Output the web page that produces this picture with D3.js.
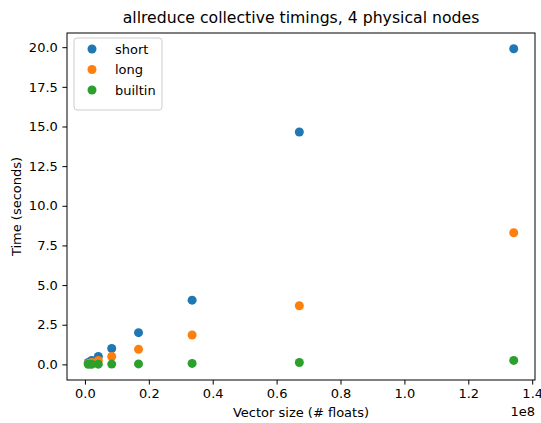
<!DOCTYPE html>
<html>
<head>
<meta charset="utf-8">
<script src="https://cdn.jsdelivr.net/npm/d3@7"></script>
<style>
  body { margin: 0; background: #fff; }
  text { font-family: "DejaVu Sans", sans-serif; fill: #000; }
</style>
</head>
<body>
<div id="chart"></div>
<script>
// vector sizes (floats): 2^20 .. 2^27
const sizes = [1048576, 2097152, 4194304, 8388608, 16777216, 33554432, 67108864, 134217728]
const shortTimes = [0.12, 0.25, 0.5, 1.0, 2.0, 4.05, 14.65, 19.9]
const longTimes = [0.06, 0.12, 0.25, 0.5, 0.95, 1.85, 3.7, 8.3]
const builtinTimes = [0.01, 0.01, 0.015, 0.02, 0.03, 0.06, 0.12, 0.25]
const seriesNames = ['short', 'long', 'builtin']
const colors = ['#1f77b4', '#ff7f0e', '#2ca02c']
const xTicks = [0, 0.2e8, 0.4e8, 0.6e8, 0.8e8, 1.0e8, 1.2e8, 1.4e8]
const yTicks = [0, 2.5, 5, 7.5, 10, 12.5, 15, 17.5, 20]

window.onload = function () {
  let width = 541
  let height = 423
  let left = 67, right = 535, top = 33, bottom = 380
  let dotR = 4.5

  let svg = d3.select('#chart').append('svg')
    .attr('width', width)
    .attr('height', height)

  // matplotlib-ish 5% margins
  let xmin = sizes[0], xmax = sizes[sizes.length - 1]
  let xpad = (xmax - xmin) * 0.05
  let x = d3.scaleLinear().domain([xmin - xpad, xmax + xpad]).range([left, right])
  let allY = shortTimes.concat(longTimes, builtinTimes)
  let ymin = d3.min(allY), ymax = d3.max(allY)
  let ypad = (ymax - ymin) * 0.05
  let y = d3.scaleLinear().domain([ymin - ypad, ymax + ypad]).range([bottom, top])

  let xAxis = d3.axisBottom(x).tickValues(xTicks).tickSize(4.6).tickPadding(4.6)
    .tickFormat(d => (d / 1e8).toFixed(1))
  let gx = svg.append('g').attr('transform', 'translate(0,' + bottom + ')').call(xAxis)
  let yAxis = d3.axisLeft(y).tickValues(yTicks).tickSize(4.6).tickPadding(4.6)
    .tickFormat(d => d.toFixed(1))
  let gy = svg.append('g').attr('transform', 'translate(' + left + ',0)').call(yAxis)
  ;[gx, gy].forEach(g => {
    g.select('.domain').remove()
    g.selectAll('line').attr('stroke', '#000').attr('stroke-width', 1)
    g.selectAll('text').style('font-size', '13px').style('font-family', '"DejaVu Sans", sans-serif').attr('fill', '#000')
  })

  // frame
  svg.append('rect')
    .attr('x', left).attr('y', top)
    .attr('width', right - left).attr('height', bottom - top)
    .attr('fill', 'none').attr('stroke', '#000').attr('stroke-width', 1)

  let series = [shortTimes, longTimes, builtinTimes]
  series.forEach((vals, si) => {
    svg.append('g').selectAll('circle')
      .data(vals)
      .enter()
      .append('circle')
      .attr('cx', (d, i) => x(sizes[i]))
      .attr('cy', d => y(d))
      .attr('r', dotR)
      .attr('fill', colors[si])
  })

  // title and labels
  svg.append('text').attr('x', (left + right) / 2).attr('y', 23)
    .attr('text-anchor', 'middle').style('font-size', '15.7px')
    .text('allreduce collective timings, 4 physical nodes')
  svg.append('text').attr('x', (left + right) / 2).attr('y', 417)
    .attr('text-anchor', 'middle').style('font-size', '13px')
    .text('Vector size (# floats)')
  svg.append('text').attr('x', right).attr('y', 416)
    .attr('text-anchor', 'end').style('font-size', '13px')
    .text('1e8')
  svg.append('text')
    .attr('transform', 'translate(21,' + ((top + bottom) / 2) + ') rotate(-90)')
    .attr('text-anchor', 'middle').style('font-size', '13px')
    .text('Time (seconds)')

  // legend
  let lg = svg.append('g').attr('transform', 'translate(74,38)')
  lg.append('rect').attr('width', 88).attr('height', 72).attr('rx', 3)
    .attr('fill', '#fff').attr('fill-opacity', 0.8)
    .attr('stroke', '#cccccc').attr('stroke-width', 1)
  seriesNames.forEach((name, i) => {
    lg.append('circle').attr('cx', 18).attr('cy', 11 + i * 20.5).attr('r', dotR).attr('fill', colors[i])
    lg.append('text').attr('x', 41).attr('y', 15.5 + i * 20.5).style('font-size', '13px').text(name)
  })
}
</script>
</body>
</html>
